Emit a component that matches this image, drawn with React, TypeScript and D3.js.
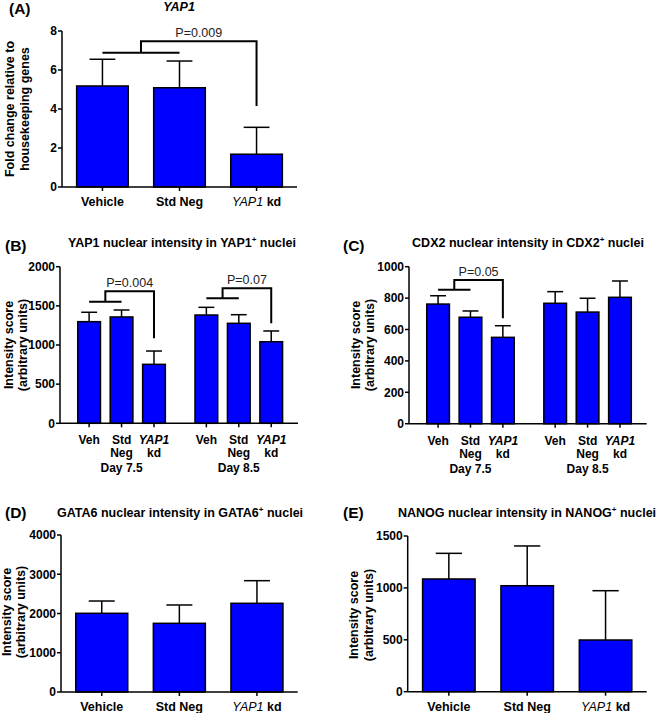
import React from "react";
import * as d3 from "d3";

// ---------- data ----------
const simpleCategories = ["Vehicle", "Std Neg", "YAP1 kd"];
const groupedCategories = ["Veh", "Std Neg", "YAP1 kd"];
const days = ["Day 7.5", "Day 8.5"];

const foldMeans = [5.18, 5.09, 1.68];
const foldErrors = [1.37, 1.37, 1.38];
const foldTicks = [0, 2, 4, 6, 8];

const yapDay75Means = [1298, 1358, 753];
const yapDay75Errors = [120, 89, 170];
const yapDay85Means = [1383, 1277, 1042];
const yapDay85Errors = [98, 110, 137];
const yapTicks = [0, 500, 1000, 1500, 2000];

const cdxDay75Means = [762, 678, 550];
const cdxDay75Errors = [53, 40, 74];
const cdxDay85Means = [767, 711, 805];
const cdxDay85Errors = [74, 88, 104];
const cdxTicks = [0, 200, 400, 600, 800, 1000];

const gataMeans = [2005, 1750, 2260];
const gataErrors = [313, 467, 576];
const gataTicks = [0, 1000, 2000, 3000, 4000];

const nanogMeans = [1086, 1021, 498];
const nanogErrors = [247, 383, 475];
const nanogTicks = [0, 500, 1000, 1500];

const foldBracket = { day: null, left: ["Vehicle", "Std Neg"], right: "YAP1 kd", low: 6.89, high: 7.47, drop: 4.15, label: "P=0.009" };
const yapBrackets = [
  { day: "Day 7.5", left: ["Veh", "Std Neg"], right: "YAP1 kd", low: 1553, high: 1686, drop: 1086, label: "P=0.004" },
  { day: "Day 8.5", left: ["Veh", "Std Neg"], right: "YAP1 kd", low: 1596, high: 1724, drop: 1277, label: "P=0.07" },
];
const cdxBrackets = [
  { day: "Day 7.5", left: ["Veh", "Std Neg"], right: "YAP1 kd", low: 853, high: 915, drop: 671, label: "P=0.05" },
];

// ---------- style ----------
const FONT = "'Liberation Sans', Arial, Helvetica, sans-serif";
const BLUE = "#0000ff";
const SW = 1.5;

type Bar = { key: string; cx: number; w: number; value: number; err: number };

function YAxis({ y, ticks, x }: { y: d3.ScaleLinear<number, number>; ticks: number[]; x: number }) {
  const [lo, hi] = d3.extent(ticks) as [number, number];
  return (
    <g>
      <line x1={x} x2={x} y1={y(lo)} y2={y(hi)} stroke="#000" strokeWidth={SW} />
      {ticks.map((t) => (
        <g key={t}>
          <line x1={x - 4} x2={x} y1={y(t)} y2={y(t)} stroke="#000" strokeWidth={SW} />
          <text x={x - 5} y={y(t)} dy="0.36em" textAnchor="end" fontSize={12} fontWeight="bold">
            {t}
          </text>
        </g>
      ))}
    </g>
  );
}

function Bars({ bars, y, capRatio }: { bars: Bar[]; y: d3.ScaleLinear<number, number>; capRatio: number }) {
  const y0 = y(0);
  return (
    <g>
      {bars.map((b) => {
        const top = y(b.value);
        const et = y(b.value + b.err);
        const cw = b.w * capRatio;
        return (
          <g key={b.key}>
            <line x1={b.cx} x2={b.cx} y1={top} y2={et} stroke="#000" strokeWidth={SW} />
            <line x1={b.cx - cw / 2} x2={b.cx + cw / 2} y1={et} y2={et} stroke="#000" strokeWidth={SW} />
            <rect x={b.cx - b.w / 2} y={top} width={b.w} height={y0 - top} fill={BLUE} stroke="#000" strokeWidth={SW} />
          </g>
        );
      })}
    </g>
  );
}

function Bracket({ xl1, xl2, xr, y, low, high, drop, label }: any) {
  const mid = (xl1 + xl2) / 2;
  return (
    <g fill="none" stroke="#000" strokeWidth={2}>
      <line x1={xl1} x2={xl2} y1={y(low)} y2={y(low)} />
      <path d={`M${mid},${y(low)}V${y(high)}H${xr}V${y(drop)}`} />
      <text
        x={(mid + xr) / 2}
        y={y(high) - 4.5}
        textAnchor="middle"
        fontSize={12.5}
        fill="#222"
        stroke="none"
      >
        {label}
      </text>
    </g>
  );
}

function YLabel({ lines, x1, x2, cy }: { lines: string[]; x1: number; x2: number; cy: number }) {
  return (
    <g fontSize={12.5} fontWeight="bold">
      <text transform={`translate(${x1},${cy}) rotate(-90)`} textAnchor="middle">
        {lines[0]}
      </text>
      <text transform={`translate(${x2},${cy}) rotate(-90)`} textAnchor="middle">
        {lines[1]}
      </text>
    </g>
  );
}

function Title({ tag, tagX, tagY, children, cx, ty }: any) {
  return (
    <g>
      <text x={tagX} y={tagY} fontSize={15.5} fontWeight="bold">
        {tag}
      </text>
      <text x={cx} y={ty} textAnchor="middle" fontSize={12.5} fontWeight="bold">
        {children}
      </text>
    </g>
  );
}

function SimpleLabel({ name, x, y }: { name: string; x: number; y: number }) {
  if (name === "YAP1 kd") {
    return (
      <text x={x} y={y} textAnchor="middle" fontSize={12.5} fontWeight="bold">
        <tspan fontStyle="italic" fontWeight="normal">YAP1</tspan> kd
      </text>
    );
  }
  return (
    <text x={x} y={y} textAnchor="middle" fontSize={12.5} fontWeight="bold">
      {name}
    </text>
  );
}

function GroupLabel({ name, x, y }: { name: string; x: number; y: number }) {
  const parts = name.split(" ");
  return (
    <g fontSize={12} fontWeight="bold">
      {parts.map((p, i) => (
        <text key={i} x={x} y={y + i * 13} textAnchor="middle" fontStyle={p === "YAP1" ? "italic" : "normal"}>
          {p}
        </text>
      ))}
    </g>
  );
}

function SimplePanel({ x0, x1, yTop, yBottom, means, errors, ticks, bracket }: any) {
  const y = d3.scaleLinear().domain([0, d3.max(ticks) as number]).range([yBottom, yTop]);
  const xb = d3.scaleBand<string>().domain(simpleCategories).range([x0, x1]).paddingInner(0.33).paddingOuter(0.19);
  const bars: Bar[] = simpleCategories.map((c, i) => ({
    key: c,
    cx: (xb(c) as number) + xb.bandwidth() / 2,
    w: xb.bandwidth(),
    value: means[i],
    err: errors[i],
  }));
  const cxOf = (c: string) => (xb(c) as number) + xb.bandwidth() / 2;
  return (
    <g>
      <Bars bars={bars} y={y} capRatio={0.5} />
      <line x1={x0} x2={x1} y1={yBottom} y2={yBottom} stroke="#000" strokeWidth={SW} />
      {bars.map((b) => (
        <line key={b.key} x1={b.cx} x2={b.cx} y1={yBottom} y2={yBottom + 4} stroke="#000" strokeWidth={SW} />
      ))}
      <YAxis y={y} ticks={ticks} x={x0} />
      {simpleCategories.map((c) => (
        <SimpleLabel key={c} name={c} x={cxOf(c)} y={yBottom + 19} />
      ))}
      {bracket && (
        <Bracket
          xl1={cxOf(bracket.left[0])}
          xl2={cxOf(bracket.left[1])}
          xr={cxOf(bracket.right)}
          y={y}
          low={bracket.low}
          high={bracket.high}
          drop={bracket.drop}
          label={bracket.label}
        />
      )}
    </g>
  );
}

function GroupedPanel({ x0, x1, yTop, yBottom, series, ticks, brackets }: any) {
  const y = d3.scaleLinear().domain([0, d3.max(ticks) as number]).range([yBottom, yTop]);
  const xg = d3.scaleBand<string>().domain(days).range([x0, x1]).paddingInner(0.17).paddingOuter(0.1).align(0.55);
  const xi = d3.scaleBand<string>().domain(groupedCategories).range([0, xg.bandwidth()]).paddingInner(0.3).paddingOuter(0.15);
  const cxOf = (d: string, c: string) => (xg(d) as number) + (xi(c) as number) + xi.bandwidth() / 2;
  const bars: Bar[] = [];
  days.forEach((d, di) => {
    groupedCategories.forEach((c, i) => {
      bars.push({ key: d + c, cx: cxOf(d, c), w: xi.bandwidth(), value: series[di].means[i], err: series[di].errors[i] });
    });
  });
  return (
    <g>
      <Bars bars={bars} y={y} capRatio={0.7} />
      <line x1={x0} x2={x1} y1={yBottom} y2={yBottom} stroke="#000" strokeWidth={SW} />
      {bars.map((b) => (
        <line key={b.key} x1={b.cx} x2={b.cx} y1={yBottom} y2={yBottom + 4} stroke="#000" strokeWidth={SW} />
      ))}
      <YAxis y={y} ticks={ticks} x={x0} />
      {days.map((d) => (
        <g key={d}>
          {groupedCategories.map((c) => (
            <GroupLabel key={c} name={c} x={cxOf(d, c)} y={yBottom + 21} />
          ))}
          <text x={(xg(d) as number) + xg.bandwidth() / 2} y={yBottom + 49} textAnchor="middle" fontSize={12} fontWeight="bold">
            {d}
          </text>
        </g>
      ))}
      {brackets.map((b: any) => (
        <Bracket
          key={b.day}
          xl1={cxOf(b.day, b.left[0])}
          xl2={cxOf(b.day, b.left[1])}
          xr={cxOf(b.day, b.right)}
          y={y}
          low={b.low}
          high={b.high}
          drop={b.drop}
          label={b.label}
        />
      ))}
    </g>
  );
}

const Sup = ({ children }: any) => (
  <>
    <tspan dy={-5} fontSize={8}>{children}</tspan>
    <tspan dy={5}> nuclei</tspan>
  </>
);

export default function App() {
  return (
    <svg
      width={661}
      height={713}
      style={{ position: "absolute", left: 0, top: 0, background: "#fff" }}
      fontFamily={FONT}
    >
      <rect width={661} height={713} fill="#fff" />
      {/* Panel A */}
      <Title tag="(A)" tagX={9} tagY={14} cx={179} ty={11}>
        <tspan fontStyle="italic">YAP1</tspan>
      </Title>
      <YLabel lines={["Fold change relative to", "housekeeping genes"]} x1={13.5} x2={28.5} cy={109} />
      <SimplePanel x0={62} x1={297} yTop={31} yBottom={187} means={foldMeans} errors={foldErrors} ticks={foldTicks} bracket={foldBracket} />

      {/* Panel B */}
      <Title tag="(B)" tagX={5} tagY={251} cx={182} ty={247}>
        YAP1 nuclear intensity in YAP1<Sup>+</Sup>
      </Title>
      <YLabel lines={["Intensity score", "(arbitrary units)"]} x1={12.5} x2={27} cy={345} />
      <GroupedPanel
        x0={60}
        x1={298}
        yTop={266.7}
        yBottom={423.3}
        ticks={yapTicks}
        series={[
          { means: yapDay75Means, errors: yapDay75Errors },
          { means: yapDay85Means, errors: yapDay85Errors },
        ]}
        brackets={yapBrackets}
      />

      {/* Panel C */}
      <Title tag="(C)" tagX={343} tagY={251} cx={528} ty={247}>
        CDX2 nuclear intensity in CDX2<Sup>+</Sup>
      </Title>
      <YLabel lines={["Intensity score", "(arbitrary units)"]} x1={359.5} x2={374} cy={345} />
      <GroupedPanel
        x0={409}
        x1={646.7}
        yTop={266.7}
        yBottom={423.7}
        ticks={cdxTicks}
        series={[
          { means: cdxDay75Means, errors: cdxDay75Errors },
          { means: cdxDay85Means, errors: cdxDay85Errors },
        ]}
        brackets={cdxBrackets}
      />

      {/* Panel D */}
      <Title tag="(D)" tagX={5} tagY={518} cx={180} ty={517}>
        GATA6 nuclear intensity in GATA6<Sup>+</Sup>
      </Title>
      <YLabel lines={["Intensity score", "(arbitrary units)"]} x1={11} x2={25} cy={612} />
      <SimplePanel x0={61} x1={297.7} yTop={535} yBottom={692} means={gataMeans} errors={gataErrors} ticks={gataTicks} bracket={null} />

      {/* Panel E */}
      <Title tag="(E)" tagX={343} tagY={518} cx={527} ty={517}>
        NANOG nuclear intensity in NANOG<Sup>+</Sup>
      </Title>
      <YLabel lines={["Intensity score", "(arbitrary units)"]} x1={358} x2={373} cy={615} />
      <SimplePanel x0={407.7} x1={646.7} yTop={536} yBottom={691.7} means={nanogMeans} errors={nanogErrors} ticks={nanogTicks} bracket={null} />
    </svg>
  );
}
